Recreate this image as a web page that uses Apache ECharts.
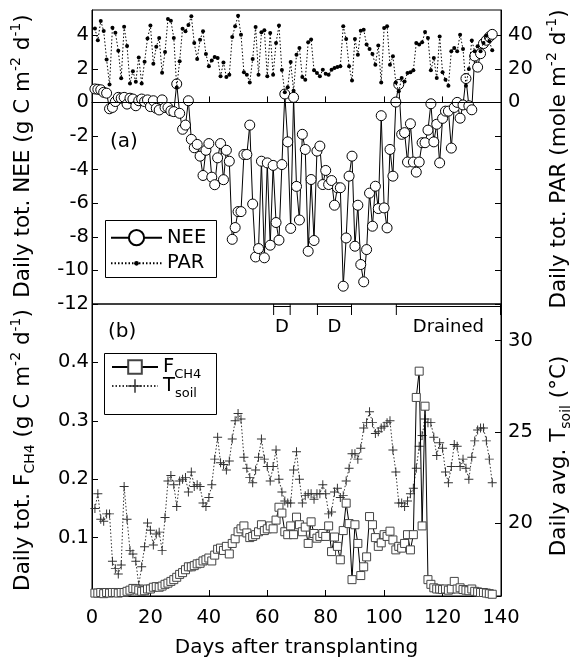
<!DOCTYPE html>
<html><head><meta charset="utf-8">
<script src="https://cdn.jsdelivr.net/npm/echarts@6/dist/echarts.min.js"></script>
<style>html,body{margin:0;padding:0;background:#fff}#c{width:577px;height:659px}</style>
</head><body><div id="c"></div>
<script>
// ---- data ----
const days = [1,2,3,4,5,6,7,8,9,10,11,12,13,14,15,16,17,18,19,20,21,22,23,24,25,26,27,28,29,30,31,32,33,34,35,36,37,38,39,40,41,42,43,44,45,46,47,48,49,50,51,52,53,54,55,56,57,58,59,60,61,62,63,64,65,66,67,68,69,70,71,72,73,74,75,76,77,78,79,80,81,82,83,84,85,86,87,88,89,90,91,92,93,94,95,96,97,98,99,100,101,102,103,104,105,106,107,108,109,110,111,112,113,114,115,116,117,118,119,120,121,122,123,124,125,126,127,128,129,130,131,132,133,134,135,136,137];
const nee = [0.8,0.78,0.75,0.6,0.55,-0.38,-0.3,0.05,0.3,0.25,
 0.3,-0.1,0.25,0.2,-0.2,0.1,0.2,0.05,0.15,-0.25,
 0.1,-0.35,-0.45,0.15,-0.3,-0.3,-0.5,-0.55,1.1,-0.65,
 -1.6,-1.35,0.1,-2.2,-2.7,-2.5,-3.2,-4.35,-2.85,-2.45,
 -4.45,-4.9,-3.3,-2.45,-4.6,-2.85,-3.5,-8.15,-7.45,-6.5,
 -6.5,-3.1,-3.1,-1.35,-6.05,-9.2,-8.7,-3.5,-9.25,-3.6,
 -8.5,-3.75,-7.15,-8.2,-3.7,0.5,-2.35,-7.5,0.3,-5.0,
 -7.0,-1.9,-2.8,-8.86,-4.59,-8.22,-2.9,-2.6,-4.89,-4.05,
 -4.89,-4.65,-6.12,-5.08,-5.08,-10.94,-8.07,-4.39,-3.2,-8.56,
 -6.12,-9.65,-10.68,-8.76,-5.4,-7.37,-4.99,-6.32,-0.79,-6.28,
 -7.47,-2.8,-4.39,0.02,1.07,-1.9,-1.8,-3.55,-1.27,-3.55,
 -4.15,-3.55,-2.4,-2.4,-1.65,-0.08,-2.35,-1.3,-3.6,-0.95,
 -0.52,-0.52,-2.72,-0.3,0.0,-0.94,-0.15,1.42,-0.2,-0.44,
 2.76,2.1,2.9,3.5,3.7,3.9,4.05];
const par = [44,37,48.5,42.5,25.6,10.6,44.5,41.5,30.8,14.4,
 45,33.5,11.3,18.6,12.3,26.8,11.3,24.2,38,45.7,
 23,33.1,38.4,17.6,30,49.6,48.6,38.4,8.9,24.5,
 43.9,42.3,46,51.3,35.4,25.8,37.3,42.3,28.8,21.5,
 25,27,26.4,15.5,23.8,15.1,16.5,38.9,45.3,51.6,
 40.3,17.9,16.5,11.9,25.8,44.9,16.5,41.7,42.9,15.5,
 41.3,16.5,35.4,45.7,19.3,6,9,24,7,28.4,
 32.4,15.1,13.5,35.8,37.4,19.1,17.5,15.5,19.5,17.1,
 16.5,19.5,20.5,21,21.5,45.3,37.8,21.5,13.1,37.8,
 28.4,42.7,43.3,34.4,31.8,28.8,22.4,33.8,11.9,44.3,
 45.3,22.4,27.4,11.9,6.6,14.5,12.5,17.5,17.9,19.1,
 35.4,34.4,35.8,41.9,38.3,19.1,26.4,14.5,39.3,17.9,
 13.5,9.9,30.4,32.4,30.4,40.3,31.8,9.9,19.9,36.9,
 30.4,33.4,30.4,35.4,39.7,36.4,31];
const fch4 = [0.005,0.005,0.006,0.004,0.006,0.005,0.006,0.006,0.005,0.006,
 0.006,0.008,0.01,0.013,0.012,0.01,0.008,0.009,0.012,0.012,
 0.015,0.016,0.015,0.017,0.02,0.022,0.025,0.028,0.032,0.037,
 0.04,0.045,0.05,0.05,0.052,0.055,0.056,0.06,0.062,0.065,
 0.06,0.07,0.08,0.082,0.078,0.085,0.072,0.09,0.098,0.11,
 0.115,0.12,0.108,0.1,0.102,0.105,0.11,0.122,0.112,0.115,
 0.12,0.115,0.13,0.152,0.142,0.11,0.105,0.12,0.105,0.135,
 0.122,0.11,0.118,0.09,0.127,0.107,0.099,0.102,0.107,0.102,
 0.12,0.076,0.101,0.085,0.062,0.112,0.159,0.124,0.028,0.122,
 0.09,0.035,0.05,0.067,0.136,0.122,0.1,0.085,0.091,0.105,
 0.102,0.111,0.096,0.079,0.085,0.082,0.09,0.105,0.079,0.105,
 0.34,0.385,0.12,0.325,0.028,0.02,0.014,0.012,0.012,0.011,
 0.012,0.01,0.012,0.025,0.012,0.014,0.011,0.01,0.009,0.012,
 0.008,0.007,0.006,0.006,0.005,0.004,0.003];
const tsoil = [20.8,21.6,20.2,20.1,20.5,20.5,17.9,17.5,17.2,17.7,
 22.0,20.2,18.5,18.3,17.9,16.6,17.6,18.7,20.0,19.6,
 18.8,19.4,19.5,18.5,20.3,22.3,22.6,22.1,20.9,22.3,
 22.4,22.5,21.7,22.8,22.0,22.1,22.0,21.1,20.9,21.4,
 22.1,23.5,24.7,23.3,23.2,22.9,23.4,24.6,25.6,26.0,
 25.7,23.6,23.0,22.5,22.2,22.9,23.6,24.6,23.5,23.1,
 22.3,23.1,24.0,22.4,21.7,21.2,21.1,21.1,22.9,23.9,
 22.4,21.1,21.5,21.6,21.6,21.3,21.6,21.6,22.1,21.6,
 20.5,20.6,21.7,21.9,21.4,21.5,22.3,23.0,23.8,23.8,
 23.5,24.1,25.2,25.5,26.1,25.5,24.9,25.0,25.2,25.3,
 25.5,25.6,24.0,22.8,21.1,21.1,20.9,21.2,21.6,21.9,
 23.0,24.2,24.8,25.7,25.5,25.5,24.7,23.7,24.4,24.1,
 22.8,22.2,23.1,24.3,24.2,23.1,23.5,23.0,22.4,23.6,
 24.5,25.1,25.2,25.2,24.5,23.5,22.2];
const drainStart = [62, 77, 104];
const drainEnd = [68, 89, 140];
const drainLabels = ['D', 'D', 'Drained'];
const neeTicks = [-12,-10,-8,-6,-4,-2,0,2,4];
const parTicks = [-120,-100,-80,-60,-40,-20,0,20,40];
const parLabels = [0,20,40];
const fch4Labels = [0.1,0.2,0.3,0.4];
const tsoilTicks = [20,25,30];
const xTicks = [0,20,40,60,80,100,120,140];

// ---- chart ----
const FF = 'DejaVu Sans';
const pair = (arr) => days.map((d, i) => [d, arr[i]]);
const plusPath = 'path://M4.45,0H5.55V4.45H10V5.55H5.55V10H4.45V5.55H0V4.45H4.45Z';
const richT = {
  n: {fontSize: 21.5, fontFamily: FF, lineHeight: 28, color: '#000'},
  p: {fontSize: 14, fontFamily: FF, lineHeight: 12, verticalAlign: 'top', color: '#000'},
  b: {fontSize: 14, fontFamily: FF, lineHeight: 12, verticalAlign: 'bottom', color: '#000'}
};
const richL = {
  m: {fontSize: 19.5, fontFamily: FF, lineHeight: 28, color: '#000'},
  s: {fontSize: 13, fontFamily: FF, lineHeight: 12, verticalAlign: 'bottom', color: '#000'}
};
const tickLbl = {fontSize: 19.5, fontFamily: FF, color: '#000'};
const axisBase = {
  axisLine: {show: true, lineStyle: {color: '#000', width: 1}},
  axisTick: {show: true, inside: true, length: 6, lineStyle: {color: '#000'}},
  splitLine: {show: false}
};

const chart = echarts.init(document.getElementById('c'), null, {renderer: 'canvas'});
const option = {
  animation: false,
  backgroundColor: '#fff',
  grid: [
    {left: 92, right: 76, top: 10, height: 294, show: true, borderColor: '#000', borderWidth: 1, backgroundColor: 'transparent'},
    {left: 92, right: 76, top: 304, height: 293, show: true, borderColor: '#000', borderWidth: 1, backgroundColor: 'transparent'}
  ],
  xAxis: [
    Object.assign({}, axisBase, {type: 'value', gridIndex: 0, min: 0, max: 140, interval: 20,
      axisLabel: {show: false}}),
    Object.assign({}, axisBase, {type: 'value', gridIndex: 1, min: 0, max: 140, interval: 20,
      axisTick: {show: true, inside: true, length: 6, lineStyle: {color: '#000'}, customValues: xTicks},
      axisLabel: Object.assign({margin: 12, customValues: xTicks}, tickLbl),
      name: 'Days after transplanting', nameLocation: 'middle', nameGap: 42,
      nameTextStyle: {fontSize: 20, fontFamily: FF, color: '#000'}})
  ],
  yAxis: [
    Object.assign({}, axisBase, {type: 'value', gridIndex: 0, position: 'left', min: -12, max: 5.5, interval: 2,
      axisTick: {show: true, inside: true, length: 6, lineStyle: {color: '#000'}, customValues: neeTicks},
      axisLabel: Object.assign({margin: 3, customValues: neeTicks}, tickLbl)}),
    Object.assign({}, axisBase, {type: 'value', gridIndex: 0, position: 'right', min: -120, max: 55, interval: 20,
      axisTick: {show: true, inside: true, length: 6, lineStyle: {color: '#000'}, customValues: parTicks},
      axisLabel: Object.assign({margin: 7, customValues: parLabels}, tickLbl)}),
    Object.assign({}, axisBase, {type: 'value', gridIndex: 1, position: 'left', min: 0, max: 0.5, interval: 0.1,
      axisTick: {show: true, inside: true, length: 6, lineStyle: {color: '#000'}, customValues: fch4Labels},
      axisLabel: Object.assign({margin: 3, customValues: fch4Labels, formatter: v => v.toFixed(1)}, tickLbl)}),
    Object.assign({}, axisBase, {type: 'value', gridIndex: 1, position: 'right', min: 16, max: 32, interval: 4,
      axisTick: {show: true, inside: true, length: 6, lineStyle: {color: '#000'}, customValues: tsoilTicks},
      axisLabel: Object.assign({margin: 7, customValues: tsoilTicks}, tickLbl)})
  ],
  legend: [
    {data: ['NEE'], left: 110, top: 227.7, padding: 0, itemWidth: 51, itemHeight: 19, selectedMode: false,
      textStyle: {fontSize: 19.5, fontFamily: FF, color: '#000', lineHeight: 20}},
    {data: ['PAR'], left: 110, top: 253.3, padding: 0, itemWidth: 51, itemHeight: 6, selectedMode: false,
      textStyle: {fontSize: 19.5, fontFamily: FF, color: '#000', lineHeight: 20}},
    {data: ['FCH4'], left: 111, top: 357, padding: 0, itemWidth: 46, itemHeight: 17, selectedMode: false,
      formatter: () => '{m|F}{s|CH4}', textStyle: {rich: richL, color: '#000'}},
    {data: ['Tsoil'], left: 111, top: 376, padding: 0, itemWidth: 46, itemHeight: 17, selectedMode: false,
      formatter: () => '{m|T}{s|soil}', textStyle: {rich: richL, color: '#000'}}
  ],
  graphic: [
    {type: 'rect', shape: {x: 105.5, y: 220.5, width: 111, height: 57}, style: {fill: 'none', stroke: '#000', lineWidth: 1}, z: 10},
    {type: 'rect', shape: {x: 104.5, y: 353.5, width: 112, height: 61}, style: {fill: 'none', stroke: '#000', lineWidth: 1}, z: 10},
    {type: 'text', x: 110, y: 142, style: {text: '(a)', fontSize: 20, fontFamily: FF, fill: '#000', verticalAlign: 'middle'}},
    {type: 'text', x: 108, y: 332, style: {text: '(b)', fontSize: 20, fontFamily: FF, fill: '#000', verticalAlign: 'middle'}},
    {type: 'text', x: 23, y: 156, rotation: Math.PI / 2,
      style: {text: '{n|Daily tot. NEE (g C m}{p|-2}{n| d}{p|-1}{n|)}', rich: richT, align: 'center', verticalAlign: 'middle'}},
    {type: 'text', x: 559, y: 159, rotation: Math.PI / 2,
      style: {text: '{n|Daily tot. PAR (mole m}{p|-2}{n| d}{p|-1}{n|)}', rich: richT, align: 'center', verticalAlign: 'middle'}},
    {type: 'text', x: 23, y: 450, rotation: Math.PI / 2,
      style: {text: '{n|Daily tot. F}{b|CH4}{n| (g C m}{p|-2}{n| d}{p|-1}{n|)}', rich: richT, align: 'center', verticalAlign: 'middle'}},
    {type: 'text', x: 559, y: 456, rotation: Math.PI / 2,
      style: {text: '{n|Daily avg. T}{b|soil}{n| (°C)}', rich: richT, align: 'center', verticalAlign: 'middle'}}
  ],
  series: [
    {name: 'NEE', type: 'line', xAxisIndex: 0, yAxisIndex: 0, data: pair(nee), z: 3,
      symbol: 'circle', symbolSize: 10, showAllSymbol: true,
      itemStyle: {color: '#fff', borderColor: '#000', borderWidth: 1},
      lineStyle: {color: '#000', width: 1},
      markLine: {silent: true, symbol: 'none', label: {show: false}, lineStyle: {color: '#000', width: 1, type: 'solid'},
        data: [{yAxis: 0}]}},
    {name: 'PAR', type: 'line', xAxisIndex: 0, yAxisIndex: 1, data: pair(par), z: 4,
      symbol: 'circle', symbolSize: 4, showAllSymbol: true,
      itemStyle: {color: '#000', borderColor: '#000', borderWidth: 0},
      lineStyle: {color: '#000', width: 1, type: [1.5, 2]}},
    {name: 'Tsoil', type: 'line', xAxisIndex: 1, yAxisIndex: 3, data: pair(tsoil), z: 3,
      symbol: plusPath, symbolSize: 9, showAllSymbol: true,
      itemStyle: {color: '#333', borderWidth: 0},
      lineStyle: {color: '#333', width: 1, type: [1.5, 2]}},
    {name: 'FCH4', type: 'line', xAxisIndex: 1, yAxisIndex: 2, data: pair(fch4), z: 4,
      symbol: 'rect', symbolSize: 8, showAllSymbol: true,
      itemStyle: {color: '#fff', borderColor: '#444', borderWidth: 1},
      lineStyle: {color: '#000', width: 1}},
    {name: 'drain', type: 'custom', xAxisIndex: 1, yAxisIndex: 2, silent: true, clip: false,
      data: drainStart.map((s, i) => [s, drainEnd[i]]),
      renderItem: function (params, api) {
        const p1 = api.coord([api.value(0), 0.5]);
        const p2 = api.coord([api.value(1), 0.5]);
        const st = {stroke: '#000', lineWidth: 1};
        return {type: 'group', children: [
          {type: 'line', shape: {x1: p1[0], y1: p1[1] + 2.5, x2: p2[0], y2: p2[1] + 2.5}, style: st},
          {type: 'line', shape: {x1: p1[0] + 0.5, y1: p1[1], x2: p1[0] + 0.5, y2: p1[1] + 11}, style: st},
          {type: 'line', shape: {x1: p2[0] - 0.5, y1: p2[1], x2: p2[0] - 0.5, y2: p2[1] + 11}, style: st},
          {type: 'text', x: (p1[0] + p2[0]) / 2, y: p1[1] + 23,
            style: {text: drainLabels[params.dataIndex], fontSize: 18, fontFamily: FF, fill: '#000', align: 'center', verticalAlign: 'middle'}}
        ]};
      }}
  ]
};
chart.setOption(option);
</script>
</body></html>
